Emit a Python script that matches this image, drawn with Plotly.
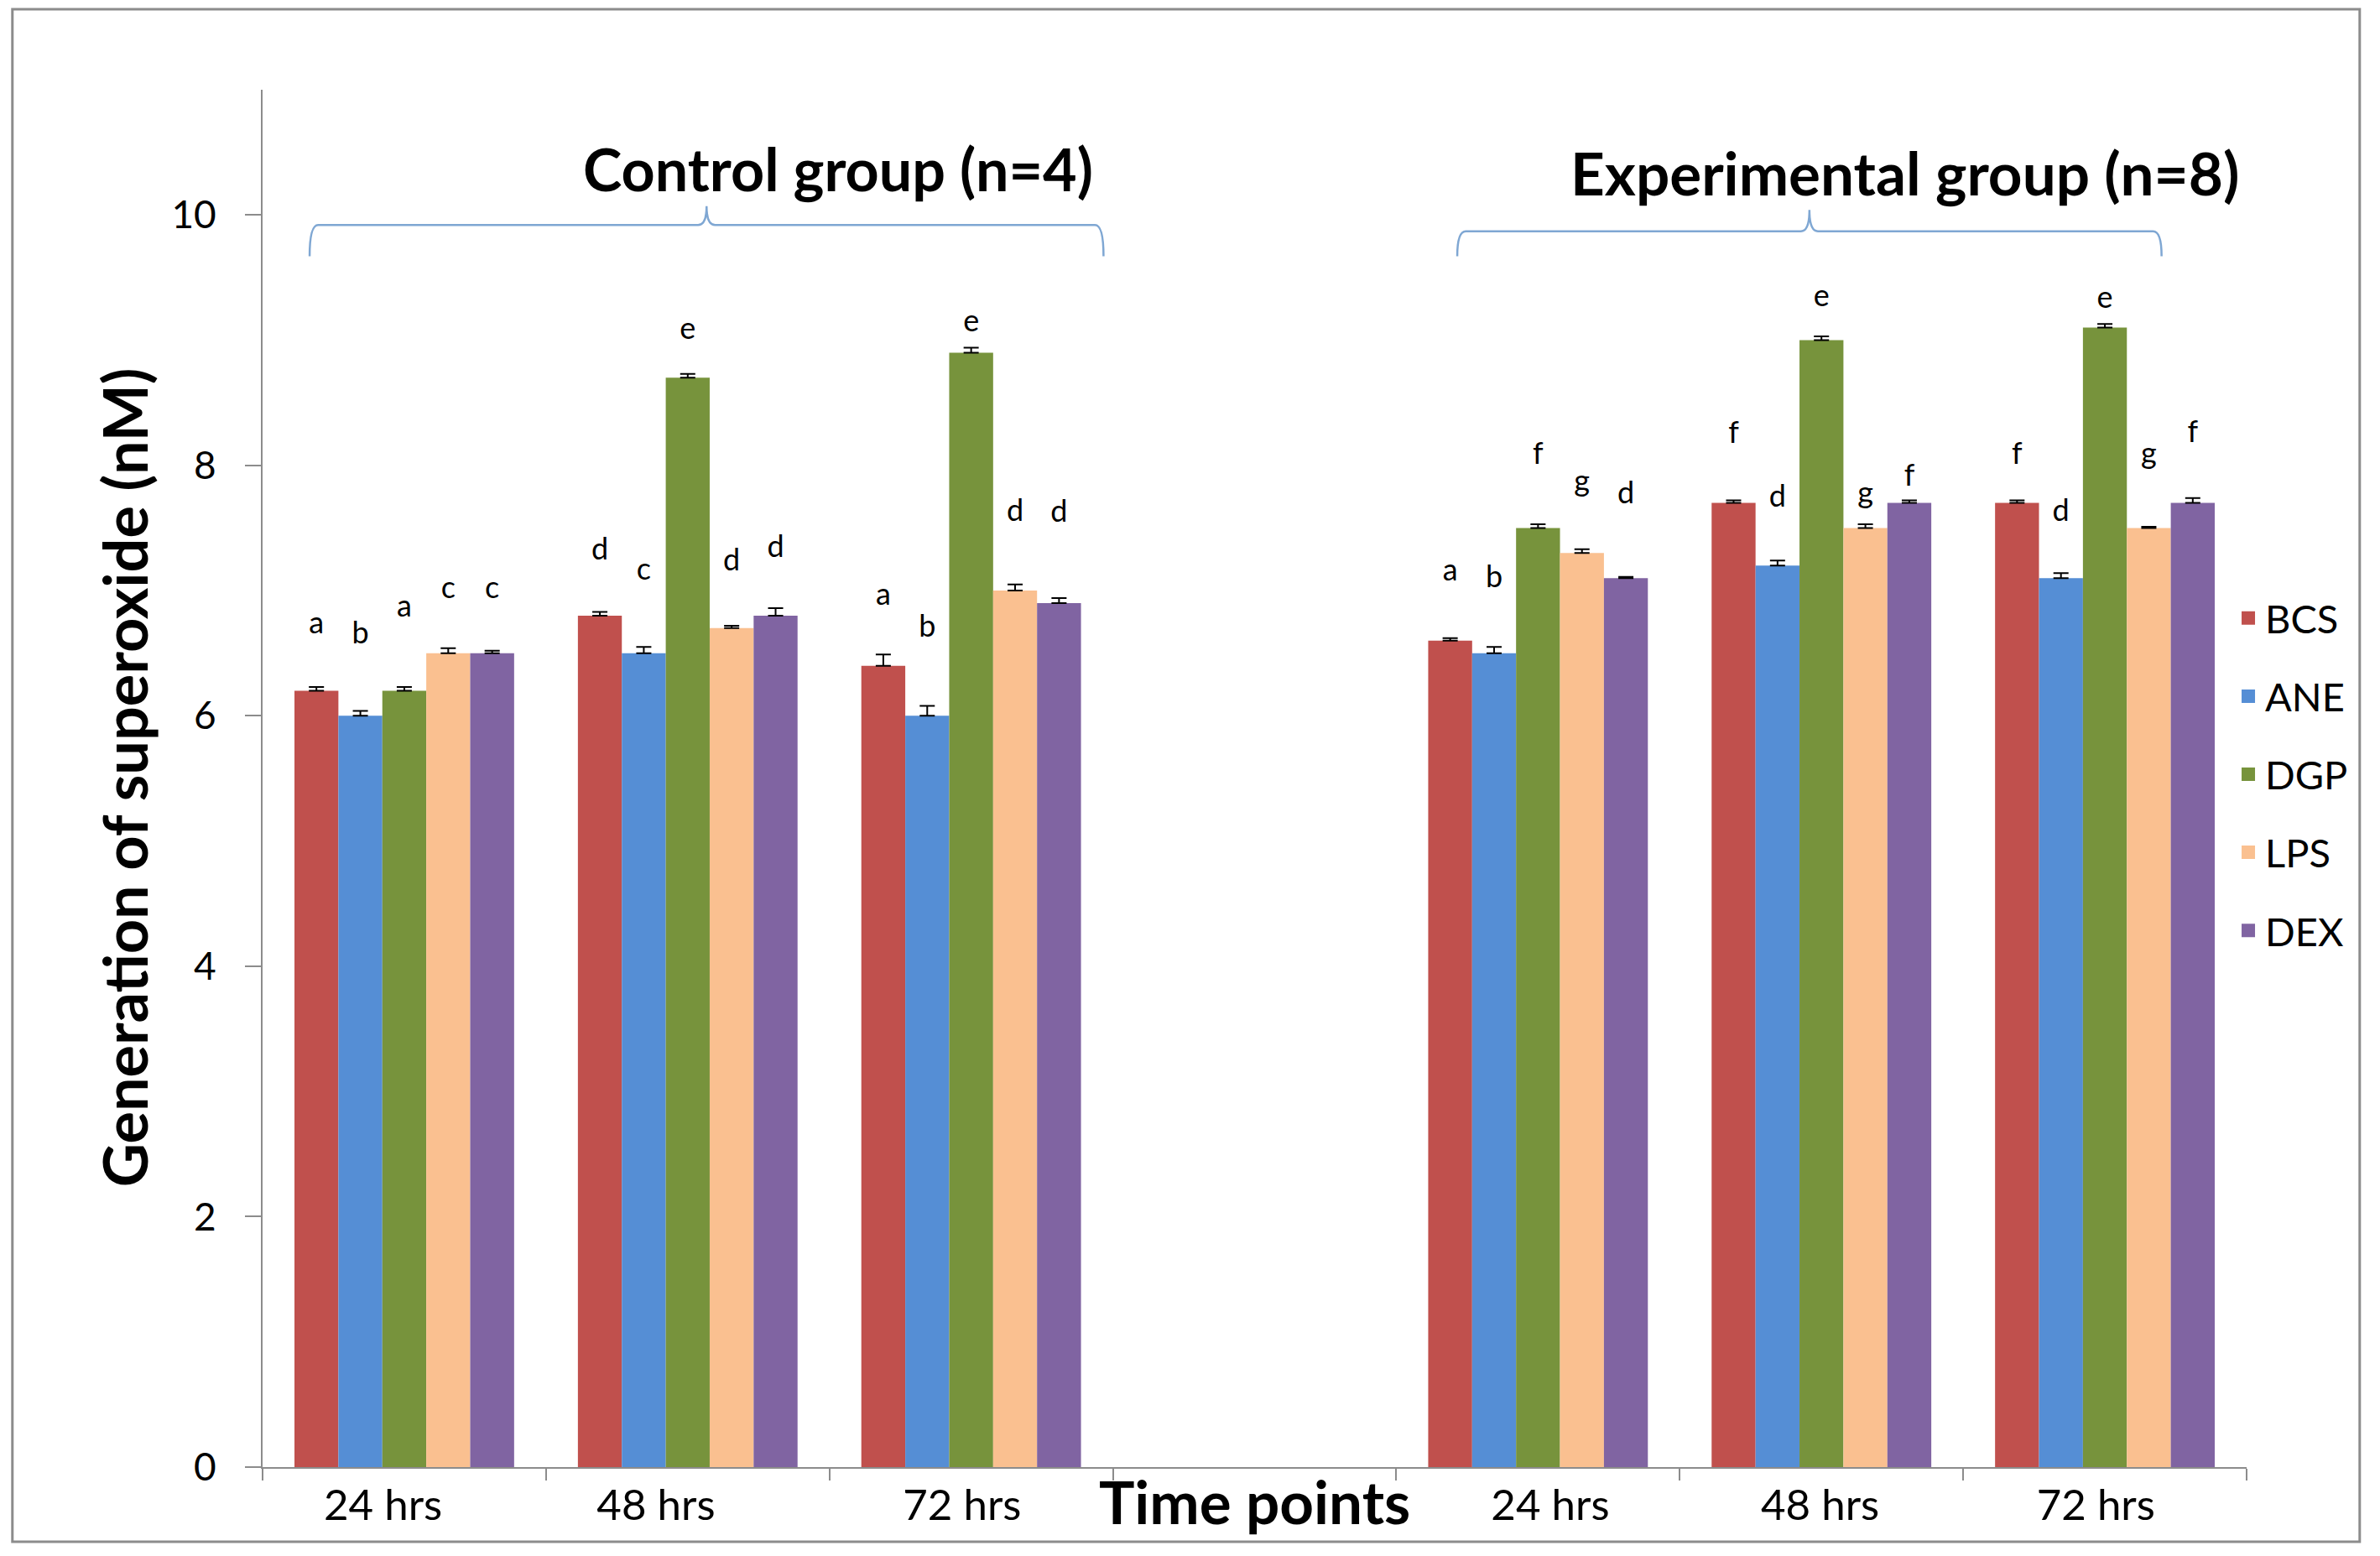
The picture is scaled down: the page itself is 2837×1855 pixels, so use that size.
import plotly.graph_objects as go

# ---------------- data ----------------
series = ["BCS", "ANE", "DGP", "LPS", "DEX"]
colors = ["#C0504D", "#558ED5", "#77933C", "#FAC090", "#8064A2"]
time_labels = ["24 hrs", "48 hrs", "72 hrs", "24 hrs", "48 hrs", "72 hrs"]
group_titles = ["Control group (n=4)", "Experimental group (n=8)"]

BCS = [6.2, 6.8, 6.4, 6.6, 7.7, 7.7]
ANE = [6.0, 6.5, 6.0, 6.5, 7.2, 7.1]
DGP = [6.2, 8.7, 8.9, 7.5, 9.0, 9.1]
LPS = [6.5, 6.7, 7.0, 7.3, 7.5, 7.5]
DEX = [6.5, 6.8, 6.9, 7.1, 7.7, 7.7]

BCS_err = [0.03, 0.03, 0.09, 0.02, 0.02, 0.02]
ANE_err = [0.04, 0.05, 0.08, 0.05, 0.04, 0.04]
DGP_err = [0.03, 0.03, 0.04, 0.03, 0.03, 0.03]
LPS_err = [0.04, 0.02, 0.05, 0.03, 0.03, 0.01]
DEX_err = [0.02, 0.06, 0.04, 0.01, 0.02, 0.04]

BCS_letters = ["a", "d", "a", "a", "f", "f"]
ANE_letters = ["b", "c", "b", "b", "d", "d"]
DGP_letters = ["a", "e", "e", "f", "e", "e"]
LPS_letters = ["c", "d", "d", "g", "g", "g"]
DEX_letters = ["c", "d", "d", "d", "f", "f"]

values = [BCS, ANE, DGP, LPS, DEX]
errors = [BCS_err, ANE_err, DGP_err, LPS_err, DEX_err]
letters = [BCS_letters, ANE_letters, DGP_letters, LPS_letters, DEX_letters]

# label heights (placement of significance letters, in axis units)
label_y = [
    [6.72, 7.31, 6.95, 7.14, 8.24, 8.07],
    [6.64, 7.15, 6.69, 7.09, 7.73, 7.62],
    [6.85, 9.07, 9.13, 8.07, 9.33, 9.32],
    [7.00, 7.22, 7.62, 7.85, 7.76, 8.07],
    [7.00, 7.33, 7.61, 7.76, 7.90, 8.25],
]

# ---------------- layout helpers ----------------
slot_x = [0, 1, 2, 4, 5, 6]     # slot 3 is the empty "Time points" slot
tick_label_shift = [-0.075, -0.112, -0.032, 0.043, -0.005, -0.032]
bar_w = 0.155
FONT = "Lato"
GRAY = "#8c8c8c"

fig = go.Figure()

for i, s in enumerate(series):
    xs = [c + (i - 2) * bar_w for c in slot_x]
    fig.add_trace(go.Bar(
        x=xs, y=values[i], width=bar_w, name=s,
        marker=dict(color=colors[i], line=dict(width=0)),
        error_y=dict(type="data", array=errors[i], arrayminus=[0] * len(errors[i]),
                     symmetric=False, color="black", thickness=2, width=9),
        showlegend=False,
    ))
    fig.add_trace(go.Scatter(
        x=xs, y=label_y[i], mode="text", text=letters[i],
        textfont=dict(family=FONT, size=36, color="black"),
        textposition="middle center", showlegend=False, hoverinfo="skip",
    ))

# legend entries
for i, s in enumerate(series):
    fig.add_trace(go.Scatter(
        x=[None], y=[None], mode="markers", name=s, legendgroup=s,
        marker=dict(symbol="square", size=16, color=colors[i]),
    ))

def brace(x0, x1, yline, yend, ypeak, dx=0.03):
    c = (x0 + x1) / 2
    return (f"M {x0},{yend} Q {x0},{yline} {x0+dx},{yline} L {c-dx},{yline} "
            f"Q {c},{yline} {c},{ypeak} Q {c},{yline} {c+dx},{yline} "
            f"L {x1-dx},{yline} Q {x1},{yline} {x1},{yend}")

shapes = [
    dict(type="path", xref="x", yref="y", path=brace(-0.334, 2.467, 9.92, 9.67, 10.07),
         line=dict(color="#7FA7D3", width=2.5)),
    dict(type="path", xref="x", yref="y", path=brace(3.715, 6.20, 9.87, 9.67, 10.04),
         line=dict(color="#7FA7D3", width=2.5)),
    dict(type="rect", xref="paper", yref="paper", x0=-0.1261, x1=1.0570, y0=-0.0542, y1=1.0585,
         line=dict(color=GRAY, width=3), layer="below"),
]

annotations = [
    dict(text=f"<b>{group_titles[0]}</b>", x=1.529, y=10.37, xref="x", yref="y",
         showarrow=False, font=dict(family=FONT, size=70, color="black")),
    dict(text=f"<b>{group_titles[1]}</b>", x=5.295, y=10.34, xref="x", yref="y",
         showarrow=False, font=dict(family=FONT, size=71, color="black")),
    dict(text="<b>Time points</b>", x=3, y=-0.0244, xref="x", yref="paper",
         showarrow=False, yanchor="middle", font=dict(family=FONT, size=71, color="black")),
    dict(text="<b>Generation of superoxide (nM)</b>", x=-0.0888, y=0.501, xref="paper",
         yref="paper", textangle=-90, showarrow=False,
         font=dict(family=FONT, size=72, color="black")),
]

fig.update_layout(
    width=2837, height=1855,
    margin=dict(l=305, r=167, t=99, b=114),
    paper_bgcolor="white", plot_bgcolor="white",
    barmode="overlay",
    font=dict(family=FONT, color="black"),
    shapes=shapes, annotations=annotations,
    legend=dict(x=0.9924, y=0.639, xanchor="left", yanchor="top",
                font=dict(family=FONT, size=47, color="black"),
                tracegroupgap=29, bgcolor="rgba(0,0,0,0)"),
    xaxis=dict(
        range=[-0.5, 6.5], tickmode="array",
        tickvals=[c + d for c, d in zip(slot_x, tick_label_shift)], ticktext=time_labels,
        ticks="", showline=True, linecolor=GRAY, linewidth=2, showgrid=False,
        zeroline=False, tickfont=dict(family=FONT, size=51, color="black"),
        ticklabelstandoff=0,
        minor=dict(tickmode="array", tickvals=[k - 0.5 for k in range(8)],
                   ticks="outside", ticklen=14, tickwidth=2, tickcolor=GRAY, showgrid=False),
    ),
    yaxis=dict(
        range=[0, 11], tickmode="array", tickvals=[0, 2, 4, 6, 8, 10],
        ticks="outside", ticklen=19, tickwidth=2, tickcolor=GRAY,
        showline=True, linecolor=GRAY, linewidth=2, showgrid=False, zeroline=False,
        tickfont=dict(family=FONT, size=46, color="black"), ticklabelstandoff=25,
    ),
)

fig.write_html("out.html")
